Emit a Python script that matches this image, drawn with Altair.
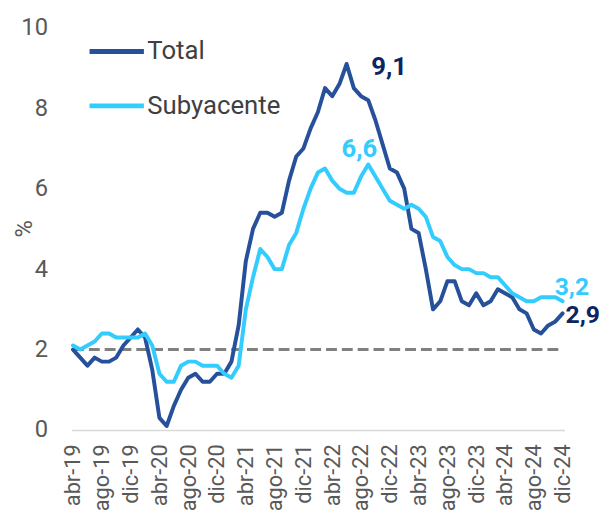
import altair as alt
import pandas as pd

# ---- data -------------------------------------------------------------
months = [
    "abr-19", "may-19", "jun-19", "jul-19", "ago-19", "sep-19", "oct-19", "nov-19", "dic-19",
    "ene-20", "feb-20", "mar-20", "abr-20", "may-20", "jun-20", "jul-20", "ago-20", "sep-20", "oct-20", "nov-20", "dic-20",
    "ene-21", "feb-21", "mar-21", "abr-21", "may-21", "jun-21", "jul-21", "ago-21", "sep-21", "oct-21", "nov-21", "dic-21",
    "ene-22", "feb-22", "mar-22", "abr-22", "may-22", "jun-22", "jul-22", "ago-22", "sep-22", "oct-22", "nov-22", "dic-22",
    "ene-23", "feb-23", "mar-23", "abr-23", "may-23", "jun-23", "jul-23", "ago-23", "sep-23", "oct-23", "nov-23", "dic-23",
    "ene-24", "feb-24", "mar-24", "abr-24", "may-24", "jun-24", "jul-24", "ago-24", "sep-24", "oct-24", "nov-24", "dic-24",
]

total = [
    2.0, 1.8, 1.6, 1.8, 1.7, 1.7, 1.8, 2.1, 2.3,
    2.5, 2.3, 1.5, 0.3, 0.1, 0.6, 1.0, 1.3, 1.4, 1.2, 1.2, 1.4,
    1.4, 1.7, 2.6, 4.2, 5.0, 5.4, 5.4, 5.3, 5.4, 6.2, 6.8, 7.0,
    7.5, 7.9, 8.5, 8.3, 8.6, 9.1, 8.5, 8.3, 8.2, 7.7, 7.1, 6.5,
    6.4, 6.0, 5.0, 4.9, 4.0, 3.0, 3.2, 3.7, 3.7, 3.2, 3.1, 3.4,
    3.1, 3.2, 3.5, 3.4, 3.3, 3.0, 2.9, 2.5, 2.4, 2.6, 2.7, 2.9,
]

subyacente = [
    2.1, 2.0, 2.1, 2.2, 2.4, 2.4, 2.3, 2.3, 2.3,
    2.3, 2.4, 2.1, 1.4, 1.2, 1.2, 1.6, 1.7, 1.7, 1.6, 1.6, 1.6,
    1.4, 1.3, 1.6, 3.0, 3.8, 4.5, 4.3, 4.0, 4.0, 4.6, 4.9, 5.5,
    6.0, 6.4, 6.5, 6.2, 6.0, 5.9, 5.9, 6.3, 6.6, 6.3, 6.0, 5.7,
    5.6, 5.5, 5.6, 5.5, 5.3, 4.8, 4.7, 4.3, 4.1, 4.0, 4.0, 3.9,
    3.9, 3.8, 3.8, 3.6, 3.4, 3.3, 3.2, 3.2, 3.3, 3.3, 3.3, 3.2,
]

series_names = ["Total", "Subyacente"]
series_colors = ["#27509B", "#33CCFF"]
target = [2.0]
y_ticks = [0, 2, 4, 6, 8, 10]
x_ticks = months[::4]

# ---- tables -------------------------------------------------------------
df = pd.concat([
    pd.DataFrame({"mes": months, "valor": total, "serie": "Total"}),
    pd.DataFrame({"mes": months, "valor": subyacente, "serie": "Subyacente"}),
], ignore_index=True)

peak_t = total.index(max(total))
peak_s = subyacente.index(max(subyacente))

def fmt(v):
    return f"{v:.1f}".replace(".", ",")

FONT = "Roboto"
GRAY = "#595959"
NAVY = "#0C2461"
CYAN = "#33CCFF"

xscale = alt.Scale(type="point", domain=months, padding=0.25)
yscale = alt.Scale(domain=[0, 10], nice=False, zero=True)

x_axis = alt.Axis(
    values=x_ticks, labelAngle=270, labelFontSize=22, labelFont=FONT,
    labelColor=GRAY, labelPadding=14, ticks=False, grid=False,
    domainColor="#D9D9D9", domainWidth=1.5, title=None, labelOverlap=False,
)
y_axis = alt.Axis(
    values=y_ticks, labelFontSize=24, labelFont=FONT, labelColor=GRAY,
    labelPadding=24, ticks=False, grid=False, domain=False,
    title="%", titleFont=FONT, titleFontSize=24, titleFontWeight="normal",
    titleColor=GRAY, titleX=-40, titleY=203, titleBaseline="alphabetic",
)

ref = alt.Chart(pd.DataFrame({"y": target, "x1": [months[0]], "x2": [months[-1]]})).mark_rule(
    color="#808080", strokeWidth=3, strokeDash=[11, 5]
).encode(
    x=alt.X("x1:O", scale=xscale, axis=x_axis),
    x2="x2:O",
    y=alt.Y("y:Q", scale=yscale, axis=y_axis),
)

lines = alt.Chart(df).mark_line(strokeWidth=4, strokeJoin="round", strokeCap="round").encode(
    x=alt.X("mes:O", scale=xscale, axis=x_axis),
    y=alt.Y("valor:Q", scale=yscale, axis=y_axis),
    color=alt.Color(
        "serie:N",
        scale=alt.Scale(domain=series_names, range=series_colors),
        legend=alt.Legend(
            orient="none", legendX=16, legendY=-6, title=None,
            symbolType="stroke", symbolSize=3025, symbolStrokeWidth=5,
            labelFontSize=26, labelFont=FONT, labelColor="#404040",
            labelOffset=1, padding=0, rowPadding=12, labelLimit=400,
        ),
    ),
    detail="serie:N",
)

def label(mes, valor, color, dx, dy, align, size=26):
    d = pd.DataFrame({"mes": [mes], "valor": [valor], "txt": [fmt(valor)]})
    return alt.Chart(d).mark_text(
        font=FONT, fontSize=size, fontWeight="bold", color=color,
        dx=dx, dy=dy, align=align, baseline="middle",
    ).encode(
        x=alt.X("mes:O", scale=xscale),
        y=alt.Y("valor:Q", scale=yscale),
        text="txt:N",
    )

labels = (
    label(months[peak_t], total[peak_t], NAVY, 43, 3, "center")
    + label(months[peak_s], subyacente[peak_s], CYAN, -9, -16, "center")
    + label(months[-1], subyacente[-1], CYAN, -8, -14, "left", 25)
    + label(months[-1], total[-1], NAVY, 3, 2, "left", 25)
)

chart = alt.layer(ref, lines, labels).properties(
    width=499, height=407,
    autosize=alt.AutoSizeParams(type="none"),
    padding={"left": 64, "top": 17, "right": 35, "bottom": 84},
).configure_view(stroke=None)

chart.save("out.html", embed_options={"renderer": "svg", "actions": False})
